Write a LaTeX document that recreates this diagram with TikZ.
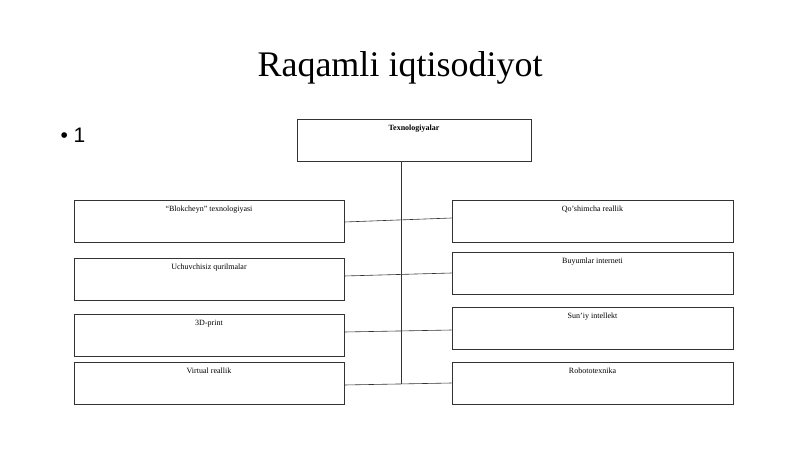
\documentclass[tikz,border=0pt]{standalone}
\usepackage{fontspec}
\setmainfont{Liberation Serif}
\newfontfamily\bulletfont{Liberation Sans}
\tikzset{
  box/.style={draw=black!80,line width=0.6pt,minimum width=#1,minimum height=42pt,inner sep=0pt},
  box/.default=270pt,
  lab/.style={font=\fontsize{8}{9}\selectfont,anchor=north,inner sep=0pt,yshift=-6pt},
  link/.style={draw=black!80,line width=0.6pt}
}
\begin{document}
\begin{tikzpicture}[x=1pt,y=-1pt]
  \useasboundingbox (0,0) rectangle (800,449);
  \node[font=\fontsize{36}{42}\selectfont] (title) at (400,68) {Raqamli iqtisodiyot};
  \node[font=\bulletfont\fontsize{21}{24}\selectfont,anchor=west] (item) at (57,135) {\textbullet\ 1};
  % top box
  \node[box=234pt] (tex) at (414,140) {};
  \node[lab,font=\bfseries\fontsize{8}{9}\selectfont] (texl) at (tex.north) {Texnologiyalar};
  % left column
  \node[box] (l1) at (209,221) {};
  \node[box] (l2) at (209,279) {};
  \node[box] (l3) at (209,335) {};
  \node[box] (l4) at (209,383) {};
  % right column
  \node[box=281pt] (r1) at (592.5,221) {};
  \node[box=281pt] (r2) at (592.5,273) {};
  \node[box=281pt] (r3) at (592.5,328) {};
  \node[box=281pt] (r4) at (592.5,383) {};
  \node[lab] (l1t) at (l1.north) {``Blokcheyn'' texnologiyasi};
  \node[lab] (l2t) at (l2.north) {Uchuvchisiz qurilmalar};
  \node[lab] (l3t) at (l3.north) {3D-print};
  \node[lab] (l4t) at (l4.north) {Virtual reallik};
  \node[lab] (r1t) at (r1.north) {Qo'shimcha reallik};
  \node[lab] (r2t) at (r2.north) {Buyumlar interneti};
  \node[lab] (r3t) at (r3.north) {Sun'iy intellekt};
  \node[lab] (r4t) at (r4.north) {Robototexnika};
  % connectors
  \coordinate (trunk) at (401,384);
  \path[link] (tex.south -| trunk) -- (trunk);
  \path[link] ([yshift=-1pt]l1.east) -- ([yshift=3pt]r1.west);
  \path[link] ([yshift=3pt]l2.east) -- (r2.west);
  \path[link] ([yshift=3pt]l3.east) -- ([yshift=-2pt]r3.west);
  \path[link] ([yshift=-2pt]l4.east) -- (r4.west);
\end{tikzpicture}
\end{document}
